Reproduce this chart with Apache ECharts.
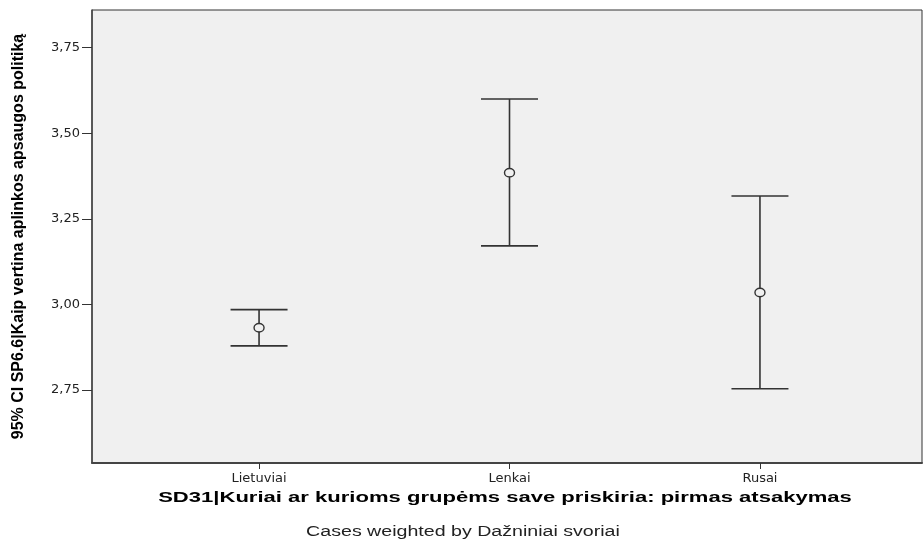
<!DOCTYPE html>
<html>
<head>
<meta charset="utf-8">
<script src="https://cdn.jsdelivr.net/npm/echarts@6/dist/echarts.min.js"></script>
<style>
  html, body { margin: 0; padding: 0; background: #ffffff; }
  #chart { width: 923px; height: 549px; }
</style>
</head>
<body>
<div id="chart"></div>
<script>
// grupės ir 95% CI reikšmės
var categories = ['Lietuviai', 'Lenkai', 'Rusai'];
var means = [2.932, 3.385, 3.035];
var lower = [2.879, 3.171, 2.754];
var upper = [2.985, 3.600, 3.317];
var yTicks = [2.75, 3.00, 3.25, 3.50, 3.75];
var xTicks = [1, 2, 3];

var chart = echarts.init(document.getElementById('chart'));

var barData = [];
for (var i = 0; i < categories.length; i++) {
    barData.push([i + 1, lower[i], upper[i], means[i]]);
}

function renderBar(params, api) {
    var x = api.value(0);
    var lo = api.coord([x, api.value(1)]);
    var hi = api.coord([x, api.value(2)]);
    var mid = api.coord([x, api.value(3)]);
    var half = 28.5;
    var st = { stroke: '#333333', lineWidth: 1.6 };
    return {
        type: 'group',
        children: [
            { type: 'line', shape: { x1: lo[0], y1: lo[1], x2: hi[0], y2: hi[1] }, style: st },
            { type: 'line', shape: { x1: hi[0] - half, y1: hi[1], x2: hi[0] + half, y2: hi[1] }, style: st },
            { type: 'line', shape: { x1: lo[0] - half, y1: lo[1], x2: lo[0] + half, y2: lo[1] }, style: st },
            { type: 'ellipse', shape: { cx: mid[0], cy: mid[1], rx: 5, ry: 4.2 },
              style: { fill: '#f0f0f0', stroke: '#333333', lineWidth: 1.4 } }
        ]
    };
}

var tickFont = 'DejaVu Sans, sans-serif';

var option = {
    animation: false,
    backgroundColor: '#ffffff',
    textStyle: { fontFamily: 'Liberation Sans, Arial, sans-serif' },
    grid: {
        left: 92, top: 10, right: 1, bottom: 86,
        outerBoundsMode: 'none',
        containLabel: false,
        show: true,
        backgroundColor: '#f0f0f0',
        borderColor: '#333333',
        borderWidth: 1
    },
    xAxis: {
        type: 'value',
        min: 0.333,
        max: 3.647,
        splitLine: { show: false },
        axisLine: { show: true, onZero: false, lineStyle: { color: '#444444', width: 2 } },
        axisTick: { show: true, customValues: xTicks, length: 6, lineStyle: { color: '#333333' } },
        axisLabel: {
            customValues: xTicks,
            color: '#222222',
            fontSize: 13,
            fontFamily: tickFont,
            margin: 9,
            formatter: function (v) { return categories[Math.round(v) - 1]; }
        }
    },
    yAxis: {
        type: 'value',
        min: 2.537,
        max: 3.86,
        splitLine: { show: false },
        axisLine: { show: true, lineStyle: { color: '#444444', width: 1.5 } },
        axisTick: { show: true, customValues: yTicks, length: 10, lineStyle: { color: '#333333' } },
        axisLabel: {
            customValues: yTicks,
            color: '#222222',
            fontSize: 13,
            fontFamily: tickFont,
            margin: 12,
            formatter: function (v) { return v.toFixed(2).replace('.', ','); }
        },
        name: '95% CI SP6.6|Kaip vertina aplinkos apsaugos politiką',
        nameLocation: 'middle',
        nameGap: 65,
        nameTextStyle: { fontSize: 16, fontWeight: 'bold', color: '#000000' }
    },
    graphic: [{
        type: 'text',
        x: 505,
        y: 498,
        scaleX: 1.47,
        style: {
            text: 'SD31|Kuriai ar kurioms grupėms save priskiria: pirmas atsakymas',
            fontSize: 15,
            fontWeight: 'bold',
            fill: '#000000',
            align: 'center',
            verticalAlign: 'middle',
            fontFamily: 'Liberation Sans, Arial, sans-serif'
        }
    }, {
        type: 'text',
        x: 463,
        y: 532,
        scaleX: 1.4,
        style: {
            text: 'Cases weighted by Dažniniai svoriai',
            fontSize: 14,
            fill: '#222222',
            align: 'center',
            verticalAlign: 'middle',
            fontFamily: 'Liberation Sans, Arial, sans-serif'
        }
    }],
    series: [{
        type: 'custom',
        renderItem: renderBar,
        encode: { x: 0, y: [1, 2, 3] },
        data: barData
    }]
};

chart.setOption(option);
</script>
</body>
</html>
